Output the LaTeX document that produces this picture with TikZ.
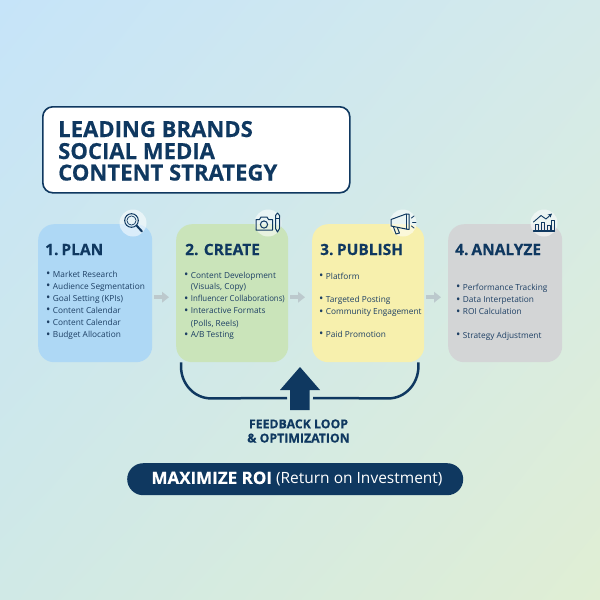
\documentclass[tikz,border=0pt]{standalone}
\usepackage{graphicx}
\usepackage{fontspec}
\setmainfont{Open Sans}[BoldFeatures={FakeBold=0.35}]
\usetikzlibrary{arrows.meta,calc,shadings}
\definecolor{navy}{HTML}{0F3860}
\definecolor{itemtext}{HTML}{1D3F64}
\definecolor{flowgray}{HTML}{BCC9CD}
\definecolor{bgul}{RGB}{198,228,249}
\definecolor{bgur}{RGB}{212,234,234}
\definecolor{bgll}{RGB}{208,233,230}
\definecolor{bglr}{RGB}{224,238,212}
\definecolor{planfill}{RGB}{174,216,245}
\definecolor{createfill}{RGB}{202,228,186}
\definecolor{publishfill}{RGB}{247,240,173}
\definecolor{analyzefill}{RGB}{211,213,214}
\newcommand{\itm}[1]{\makebox[6.7pt][l]{\raisebox{-0.7pt}{\fontsize{11.5}{10}\selectfont\textbullet}}#1}
\newcommand{\cont}[1]{\makebox[6.7pt][l]{}#1}
\tikzset{
  panel/.style={rounded corners=16pt,minimum height=138pt,anchor=north west,inner sep=0pt},
  heading/.style={anchor=base west,inner sep=0pt,text=navy,font=\fontsize{15.5}{18}\selectfont\bfseries},
  item/.style={anchor=base west,inner sep=0pt,text=itemtext,font=\fontsize{8.3}{10}\selectfont},
  titleline/.style={anchor=base west,inner sep=0pt,text=navy,font=\fontsize{22.1}{24}\selectfont\bfseries},
  badge/.style={circle,minimum size=27pt,inner sep=0pt,fill=white,fill opacity=0.55},
  icon/.style={draw=navy,line width=1pt,line cap=round,line join=round},
  flow/.style={draw=flowgray,line width=4.5pt,-{Triangle[length=7pt,width=10.5pt]},shorten <=2pt,shorten >=7pt},
  loopline/.style={draw=navy,line width=2.5pt},
}
\begin{document}
\begin{tikzpicture}[x=1pt,y=-1pt]
\useasboundingbox (0,0) rectangle (600,600);
\shade[lower left=bgll,upper left=bgul,upper right=bgur,lower right=bglr] (0,600) rectangle (600,0);
% title
\node[draw=navy,line width=1.6pt,fill=white,rounded corners=10pt,anchor=north west,minimum width=307pt,minimum height=86pt,inner sep=0pt] (title) at (42,106) {};
\node[titleline] (t1) at (58,137) {LEADING BRANDS};
\node[titleline] (t2) at (58,159) {SOCIAL MEDIA};
\node[titleline] (t3) at (58,180.5) {CONTENT STRATEGY};
% panels
\node[panel,fill=planfill,minimum width=114pt] (plan) at (38,224) {};
\node[panel,fill=createfill,minimum width=112pt] (create) at (176,224) {};
\node[panel,fill=publishfill,minimum width=112pt] (publish) at (312,224) {};
\node[panel,fill=analyzefill,minimum width=114pt] (analyze) at (448,224) {};
% flow arrows
\draw[flow] ([yshift=-4pt]plan.east) -- ([yshift=-4pt]create.west);
\draw[flow] ([yshift=-4pt]create.east) -- ([yshift=-4pt]publish.west);
\draw[flow] ([yshift=-4pt]publish.east) -- ([yshift=-4pt]analyze.west);
% headings
\node[heading] (h1) at (45,255) {1.\hspace{3pt}PLAN};
\node[heading] (h2) at (185,255) {2. CREATE};
\node[heading] (h3) at (320,255) {3.\hspace{3.5pt}PUBLISH};
\node[heading] (h4) at (455,255) {4.\hspace{3pt}ANALYZE};
% plan items
\node[item] (a1) at (46,277) {\itm{Market Research}};
\node[item] (a2) at (46,289) {\itm{Audience Segmentation}};
\node[item] (a3) at (46,301) {\itm{Goal Setting (KPIs)}};
\node[item] (a4) at (46,313) {\itm{Content Calendar}};
\node[item] (a5) at (46,325.5) {\itm{Content Calendar}};
\node[item] (a6) at (46,337.5) {\itm{Budget Allocation}};
% create items
\node[item] (b1) at (184,278) {\itm{Content Development}};
\node[item] (b2) at (184,289.5) {\cont{(Visuals, Copy)}};
\node[item] (b3) at (184,301.5) {\itm{\scalebox{0.94}[1]{Influencer Collaborations)}}};
\node[item] (b4) at (184,313.5) {\itm{Interactive Formats}};
\node[item] (b5) at (184,326) {\cont{(Polls, Reels)}};
\node[item] (b6) at (184,337.5) {\itm{A/B Testing}};
% publish items
\node[item] (c1) at (319,279) {\itm{Platform}};
\node[item] (c2) at (319,302) {\itm{Targeted Posting}};
\node[item] (c3) at (319,314.5) {\itm{Community Engagement}};
\node[item] (c4) at (319,337) {\itm{Paid Promotion}};
% analyze items
\node[item] (d1) at (456,290) {\itm{Performance Tracking}};
\node[item] (d2) at (456,302.5) {\itm{Data Interpetation}};
\node[item] (d3) at (456,314.5) {\itm{ROI Calculation}};
\node[item] (d4) at (456,338) {\itm{Strategy Adjustment}};
% badges
\node[badge] (b-plan) at (133,223) {};
\node[badge] (b-create) at (268,223) {};
\node[badge] (b-publish) at (403,223) {};
\node[badge] (b-analyze) at (544,223) {};
% magnifier
\draw[icon] (131.5,220.5) circle (6.8pt);
\draw[icon,line width=0.7pt] (131.5,220.5) circle (4.6pt);
\draw[icon,line width=2pt] (136.6,225.6) -- (142,231.5);
% camera + pen
\draw[icon] (256,219.5) -- (259.5,219.5) -- (261,217) -- (267,217) -- (268.5,219.5) -- (272.5,219.5) -- (272.5,230) -- (256,230) -- cycle;
\draw[icon] (264,224.5) circle (3.6pt);
\draw[icon] (275.5,215.5) -- (277.5,213) -- (279.5,215.5) -- (279.5,228.5) -- (277.5,232) -- (275.5,228.5) -- cycle;
\draw[icon,line width=0.7pt] (275.5,218) -- (279.5,218);
% megaphone
\draw[icon] (391,219.5) -- (406,214) -- (409,214) -- (409,229.5) -- (406,229) -- (391,226) -- cycle;
\draw[icon] (406,214) -- (406,229);
\draw[icon] (393.5,227) -- (396,234) -- (399.5,233) -- (397.5,228);
\draw[icon,line width=0.8pt] (411.5,218) -- (414,216);
\draw[icon,line width=0.8pt] (412.5,222) -- (416,222);
\draw[icon,line width=0.8pt] (411.5,226) -- (414,228);
% chart
\draw[icon,line width=1.2pt] (533.5,231) -- (554.5,231);
\draw[icon,line width=0.9pt] (535,231) -- (535,224.5) -- (538.5,224.5) -- (538.5,231);
\draw[icon,line width=0.9pt] (541,231) -- (541,222) -- (544.5,222) -- (544.5,231);
\draw[icon,line width=0.9pt] (547,231) -- (547,225) -- (550,225) -- (550,231);
\draw[icon,line width=0.9pt] (551.5,231) -- (551.5,220) -- (554,220) -- (554,231);
\draw[icon,line width=0.9pt,-{Stealth[length=4pt,width=4pt]}] (533.5,222) -- (541,215.5) -- (546,219) -- (552,213.5);
% feedback loop
\fill[navy] (300,367) -- (320,390) -- (309.5,390) -- (309.5,410) -- (290,410) -- (290,390) -- (280,390) -- cycle;
\coordinate (ll) at (287,398);
\coordinate (rl) at (313,398);
\draw[loopline] ([xshift=5pt]create.south west) -- ++(0,4) arc[start angle=180,end angle=90,x radius=30pt,y radius=-32pt] -- (ll);
\draw[loopline] ([xshift=-6pt]publish.south east) -- ++(0,4) arc[start angle=0,end angle=90,x radius=30pt,y radius=-32pt] -- (rl);
\node[inner sep=0pt,text=navy,align=center,font=\fontsize{12.3}{14.2}\selectfont\bfseries] (fb) at (298.5,431) {FEEDBACK LOOP\\\& OPTIMIZATION};
% ROI
\node[fill=navy,rounded corners=16pt,anchor=north west,minimum width=336pt,minimum height=32pt,inner sep=0pt] (roi) at (127,463) {};
\node[inner sep=0pt,text=white,font=\fontsize{15.5}{18}\selectfont] (roit) at (297,479) {{\fontsize{17}{18}\selectfont\bfseries MAXIMIZE ROI} (Return on Investment)};
\end{tikzpicture}
\end{document}
